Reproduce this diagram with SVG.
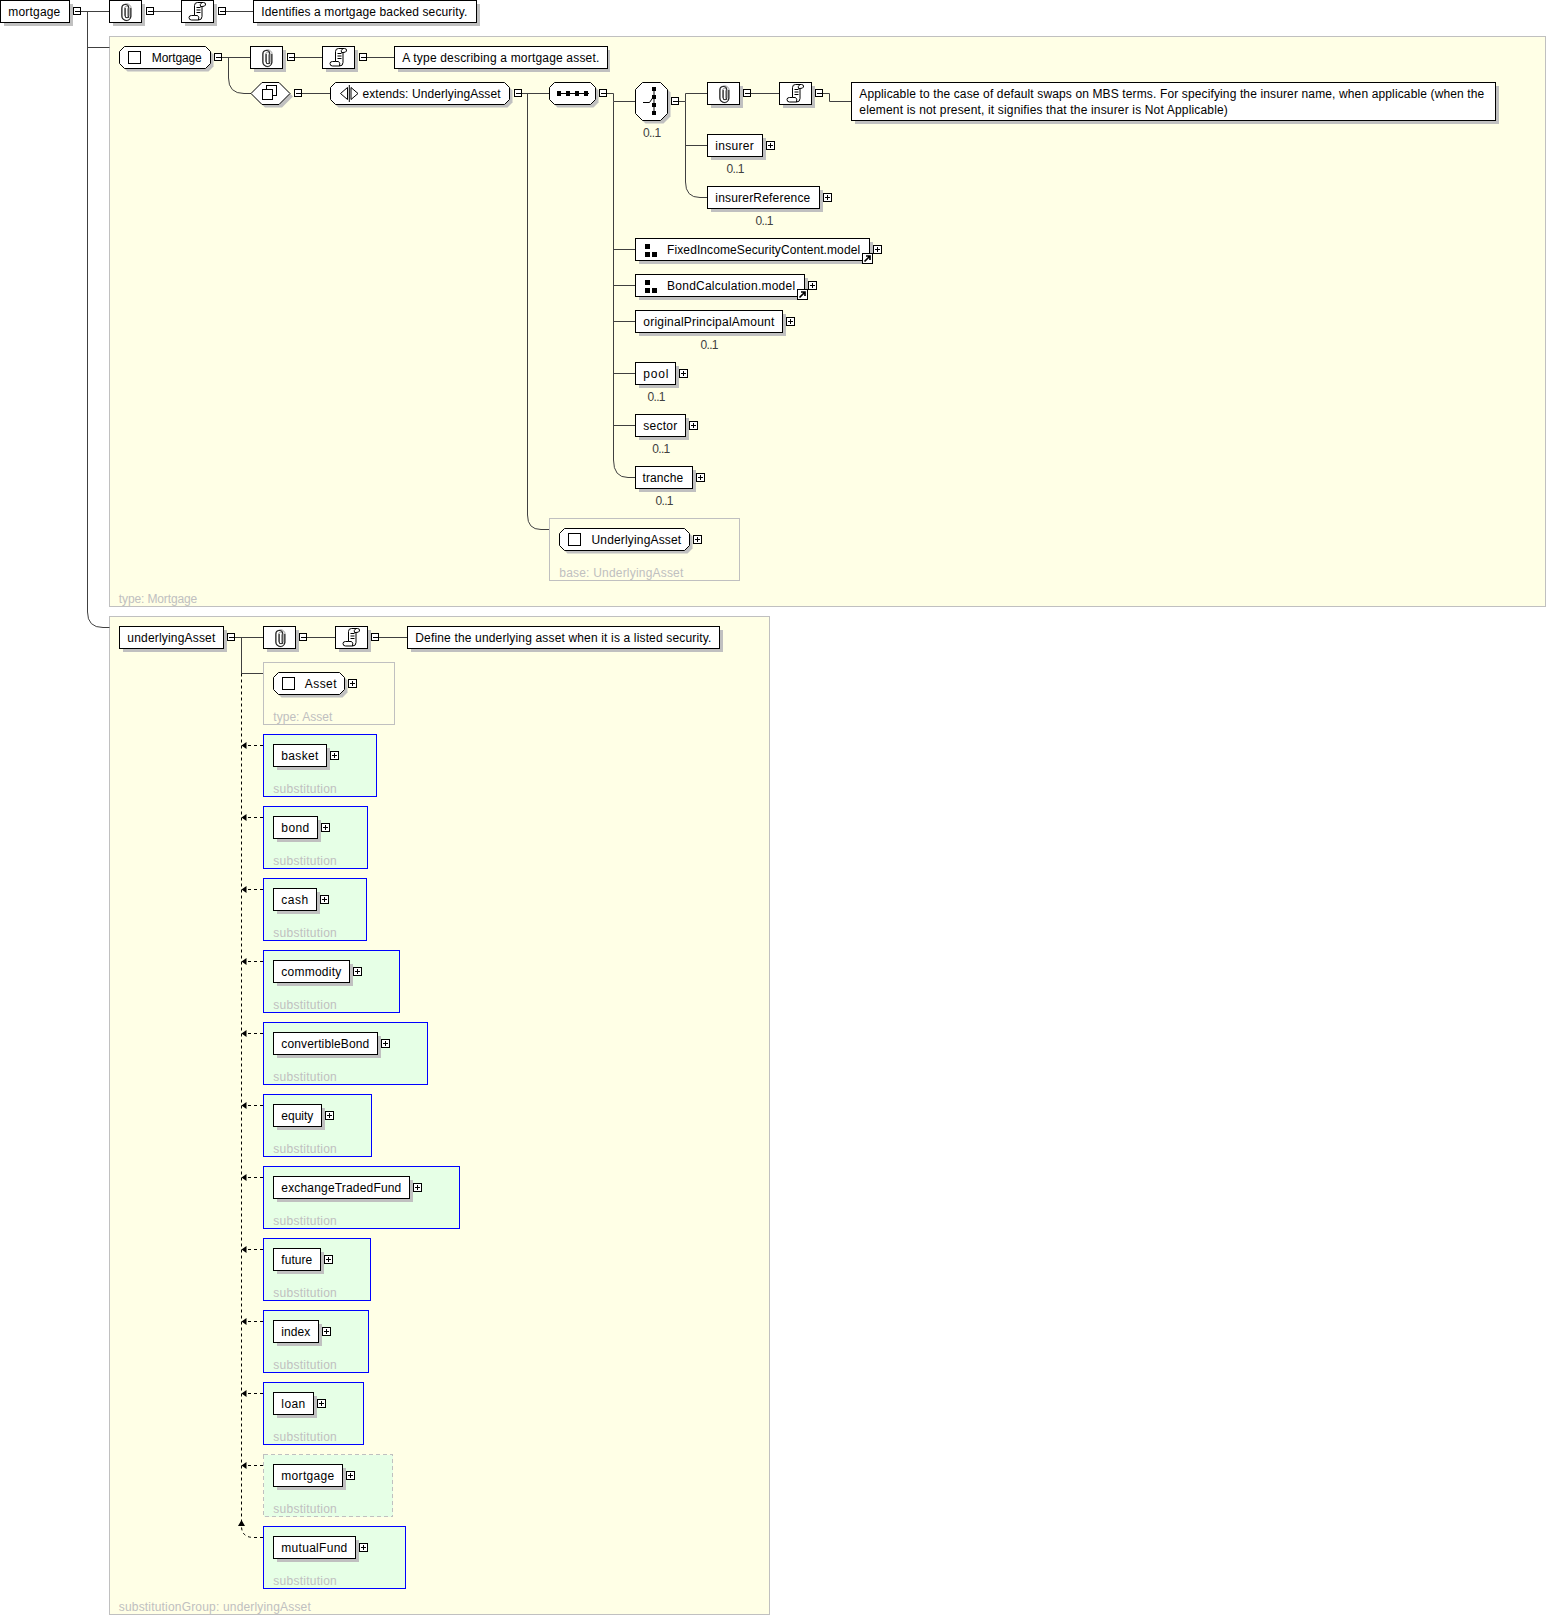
<svg xmlns="http://www.w3.org/2000/svg" width="1547" height="1616" viewBox="0 0 1547 1616">
<style>
text{font-family:"Liberation Sans",Arial,sans-serif;font-size:12px;fill:#000;transform:translateX(-.2px)}
text.g{fill:#c0c0c0}text.o{fill:#404040}
.n{fill:#fff;stroke:#000;stroke-width:1}
.sh{fill:#c0c0c0;stroke:none}
.y{fill:#ffffe6;stroke:#c0c0c0}
.t{fill:none;stroke:#c0c0c0}
.s{fill:#e6ffe6;stroke:#0000ff}
.sd{fill:#e6ffe6;stroke:#c0c0c0;stroke-dasharray:4 3}
.c{fill:none;stroke:#404040;stroke-width:1}
.d{fill:none;stroke:#000;stroke-width:1;stroke-dasharray:3 3}
.k{fill:#000}
rect{shape-rendering:crispEdges}
</style>
<defs>
<g id="minus"><rect x="0" y="0" width="7" height="7" fill="#fff" stroke="#000"/><path d="M1.500 4H6.500" stroke="#000" shape-rendering="crispEdges"/></g>
<g id="plus"><rect x="0" y="0" width="8" height="8" fill="#fff" stroke="#000"/><path d="M1.500 4H6.500M4 1.500V6.500" stroke="#000" shape-rendering="crispEdges"/></g>
<g id="clip"><rect x="-16" y="-11" width="32" height="22" fill="#c0c0c0" transform="translate(3 3)"/><rect x="-16" y="-11" width="32" height="22" class="n"/><path d="M1.500-3.500V4.500A1.800 1.800 0 0 0 5 4.500V-3.500A4.500 4.500 0 0 0-4-3.500V3.500A4.500 5 0 0 0 5 4.500M-1.500 4V-3.500A2 2 0 0 1 2.500-3.500" fill="none" stroke="#9a9a9a" stroke-width="1" transform="translate(.6 .3)"/><path d="M5-3.500V4.500A4.500 4.500 0 0 1-4 4.500V-3.500A3.500 3.500 0 0 1 3-3.500V4.500A1.800 1.800 0 0 1-.6 4.500V-3.500" fill="none" stroke="#222" stroke-width="1.100" transform="translate(.3 0)"/></g>
<g id="scroll"><rect x="-16" y="-11" width="32" height="22" fill="#c0c0c0" transform="translate(3 3)"/><rect x="-16" y="-11" width="32" height="22" class="n"/><path d="M-3-6Q-3-9 0-9H6Q8.500-9 8-6.500Q7.500-5 4.500-5V5Q4.500 8.500 1 8.500H-6Q-8.500 8.500-8.500 6Q-8.500 4-6 4H-3Z" fill="#fff" stroke="#000"/><path d="M4.500-5H3Q2-7 4-8.500M-3 4H0Q2 5 1 8.500M-1-4H3M-1-1.500H3M-1 1H3" stroke="#000" fill="none"/></g>
<g id="link"><rect x="0" y="0" width="10" height="10" fill="#fff" stroke="#000"/><path d="M2 8L7 3M3.500 2.500H7.500V6.500" stroke="#000" stroke-width="1.700" fill="none"/></g>
<g id="grp"><rect x="0" y="0" width="5" height="5" class="k"/><rect x="0" y="7.500" width="5" height="5" class="k"/><rect x="7" y="7.500" width="5" height="5" class="k"/></g>
</defs>

<g id="frames">
<rect x="109.500" y="36.500" width="1436" height="570" class="y"/>
<rect x="109.500" y="616.500" width="660" height="998" class="y"/>
</g>

<g id="connectors">
<path class="c" d="M81 11.500H109.500M153.500 11.500H181.500M225.500 11.500H253.500"/>
<path class="c" d="M87.500 11.500V612Q87.500 627.500 103 627.500H109.500M87.500 47.500H109.500"/>
<path class="c" d="M221.500 57.500H250.500M294.500 57.500H322.500M366.500 57.500H394.500"/>
<path class="c" d="M228.500 57.500V78Q228.500 93.500 244 93.500H251"/>
<path class="c" d="M301.500 93.500H330.500M521.500 93.500H549.500"/>
<path class="c" d="M527.500 93.500V515Q527.500 529.500 541 529.500H549.500"/>
<path class="c" d="M606.500 93.500H613.500V101.500H635.500"/>
<path class="c" d="M613.500 101.500V460Q613.500 477.500 628 477.500H635.500M613.500 249.500H635.500M613.500 285.500H635.500M613.500 321.500H635.500M613.500 373.500H635.500M613.500 425.500H635.500"/>
<path class="c" d="M678.500 101.500H685.500V93.500H707.500M685.500 101.500V182Q685.500 197.500 700 197.500H707.500M685.500 145.500H707.500"/>
<path class="c" d="M750.500 93.500H779.500M822.500 93.500H829.500V101.500H851.500"/>
<path class="c" d="M234.500 637.500H263.500M306.500 637.500H335.500M378.500 637.500H407.500"/>
<path class="c" d="M241.500 637.500V673.500H263.500"/>
<path class="d" d="M241.500 673.500V1522"/>
<path class="d" d="M263 745.500H247M263 817.500H247M263 889.500H247M263 961.500H247M263 1033.500H247M263 1105.500H247M263 1177.500H247M263 1249.500H247M263 1321.500H247M263 1393.500H247M263 1465.500H247"/>
<path class="d" d="M263 1537.500H254Q241.500 1537.500 241.500 1526"/>
<path class="k" d="M241.500 745.500l5-3.500v7zM241.500 817.500l5-3.500v7zM241.500 889.500l5-3.500v7zM241.500 961.500l5-3.500v7zM241.500 1033.500l5-3.500v7zM241.500 1105.500l5-3.500v7zM241.500 1177.500l5-3.500v7zM241.500 1249.500l5-3.500v7zM241.500 1321.500l5-3.500v7zM241.500 1393.500l5-3.500v7zM241.500 1465.500l5-3.500v7zM241.500 1520l3.500 6h-7z"/>
</g>

<g id="n-mortgage-root"><rect x="3.500" y="3.500" width="69" height="22" class="sh"/><rect x="0.500" y="0.500" width="69" height="22" class="n"/><text x="8.500" y="16" textLength="52">mortgage</text><use href="#minus" x="73.500" y="7.500"/></g>
<g id="n-root-ann"><use href="#clip" x="125.500" y="11.500"/><use href="#minus" x="146.500" y="7.500"/></g>
<g id="n-root-doc"><use href="#scroll" x="197.500" y="11.500"/><use href="#minus" x="218.500" y="7.500"/></g>
<g id="n-root-text"><rect x="256.500" y="3.500" width="223" height="22" class="sh"/><rect x="253.500" y="0.500" width="223" height="22" class="n"/><text x="261.500" y="16" textLength="206">Identifies a mortgage backed security.</text></g>

<g id="n-mortgage-type"><path class="sh" d="M122.500 54.500l5-5H208.500l5 5v12l-5 5H127.500l-5-5z"/><path class="n" d="M119.500 51.500l5-5H205.500l5 5v12l-5 5H124.500l-5-5z"/><rect x="128.500" y="51.500" width="12" height="12" class="n"/><text x="152" y="62" textLength="50">Mortgage</text><use href="#minus" x="214.500" y="53.500"/></g>
<g id="n-type-ann"><use href="#clip" x="266.500" y="57.500"/><use href="#minus" x="287.500" y="53.500"/></g>
<g id="n-type-doc"><use href="#scroll" x="338.500" y="57.500"/><use href="#minus" x="359.500" y="53.500"/></g>
<g id="n-type-text"><rect x="397.500" y="49.500" width="212.500" height="22" class="sh"/><rect x="394.500" y="46.500" width="212.500" height="22" class="n"/><text x="402.500" y="62" textLength="197">A type describing a mortgage asset.</text></g>
<g id="n-complex"><path class="sh" d="M254 96.500L265 85.500H282L293 96.500L282 107.500H265z"/><path class="n" d="M251 93.500L262 82.500H279L290 93.500L279 104.500H262z"/><rect x="266.500" y="85.500" width="10" height="10" class="n"/><rect x="262.500" y="89.500" width="10" height="10" class="n"/><use href="#minus" x="294.500" y="89.500"/></g>
<g id="n-extends"><path class="sh" d="M333.500 90.500l5-5H507.500l5 5v12l-5 5H338.500l-5-5z"/><path class="n" d="M330.500 87.500l5-5H504.500l5 5v12l-5 5H335.500l-5-5z"/><path class="n" d="M347.500 87.500L340.500 93.500L347.500 99.500zM351 87.500L358 93.500L351 99.500z"/><path d="M349.300 85V102" stroke="#000"/><text x="362.700" y="98" textLength="138">extends: UnderlyingAsset</text><use href="#minus" x="514.500" y="89.500"/></g>
<g id="n-sequence"><path class="sh" d="M552.500 90.500l5-5H593.500l5 5v12l-5 5H557.500l-5-5z"/><path class="n" d="M549.500 87.500l5-5H590.500l5 5v12l-5 5H554.500l-5-5z"/><path d="M557 93.500H589" stroke="#000"/><rect x="557" y="91" width="4" height="5" class="k"/><rect x="566" y="91" width="4" height="5" class="k"/><rect x="575" y="91" width="4" height="5" class="k"/><rect x="584" y="91" width="4" height="5" class="k"/><use href="#minus" x="599.500" y="89.500"/></g>
<g id="n-choice"><path class="sh" d="M638.500 92.500l7-7H663.500l7 7V116.500l-7 7H645.500l-7-7z"/><path class="n" d="M635.500 89.500l7-7H660.500l7 7V113.500l-7 7H642.500l-7-7z"/><path d="M654 88V113M643 102.500H649.500L654 96" stroke="#000" fill="none"/><rect x="652" y="87" width="4" height="4" class="k"/><rect x="652" y="95" width="4" height="4" class="k"/><rect x="652" y="103" width="4" height="4" class="k"/><rect x="652" y="111" width="4" height="4" class="k"/><use href="#minus" x="671.500" y="97.500"/><text class="o" x="643.300" y="137" textLength="18">0..1</text></g>
<g id="n-choice-ann"><use href="#clip" x="723.500" y="93.500"/><use href="#minus" x="743.500" y="89.500"/></g>
<g id="n-choice-doc"><use href="#scroll" x="795.500" y="93.500"/><use href="#minus" x="815.500" y="89.500"/></g>
<g id="n-choice-text"><rect x="854.500" y="85.500" width="644" height="38" class="sh"/><rect x="851.500" y="82.500" width="644" height="38" class="n"/><text x="859.500" y="98" textLength="625">Applicable to the case of default swaps on MBS terms. For specifying the insurer name, when applicable (when the</text><text x="859.500" y="114" textLength="368.500">element is not present, it signifies that the insurer is Not Applicable)</text></g>
<g id="n-insurer"><rect x="710.500" y="137.500" width="55" height="22" class="sh"/><rect x="707.500" y="134.500" width="55" height="22" class="n"/><text x="715.500" y="150" textLength="38.500">insurer</text><use href="#plus" x="766.500" y="141.500"/><text class="o" x="726.700" y="172.500" textLength="18">0..1</text></g>
<g id="n-insurerReference"><rect x="710.500" y="189.500" width="112" height="22" class="sh"/><rect x="707.500" y="186.500" width="112" height="22" class="n"/><text x="715.500" y="202" textLength="95">insurerReference</text><use href="#plus" x="823.500" y="193.500"/><text class="o" x="755.700" y="225" textLength="18">0..1</text></g>
<g id="n-FixedIncome"><rect x="638.500" y="241.500" width="234" height="22" class="sh"/><rect x="635.500" y="238.500" width="234" height="22" class="n"/><use href="#grp" x="645" y="244"/><text x="667.300" y="254" textLength="193">FixedIncomeSecurityContent.model</text><use href="#link" x="862.500" y="253.500"/><use href="#plus" x="873.500" y="245.500"/></g>
<g id="n-BondCalculation"><rect x="638.500" y="277.500" width="169" height="22" class="sh"/><rect x="635.500" y="274.500" width="169" height="22" class="n"/><use href="#grp" x="645" y="280"/><text x="667.300" y="290" textLength="128">BondCalculation.model</text><use href="#link" x="797.500" y="289.500"/><use href="#plus" x="808.500" y="281.500"/></g>
<g id="n-originalPrincipalAmount"><rect x="638.500" y="313.500" width="147" height="22" class="sh"/><rect x="635.500" y="310.500" width="147" height="22" class="n"/><text x="643.500" y="326" textLength="131">originalPrincipalAmount</text><use href="#plus" x="786.500" y="317.500"/><text class="o" x="700.700" y="348.500" textLength="18">0..1</text></g>
<g id="n-pool"><rect x="638.500" y="365.500" width="40" height="22" class="sh"/><rect x="635.500" y="362.500" width="40" height="22" class="n"/><text x="643.500" y="378" textLength="25">pool</text><use href="#plus" x="679.500" y="369.500"/><text class="o" x="647.700" y="400.500" textLength="18">0..1</text></g>
<g id="n-sector"><rect x="638.500" y="417.500" width="50" height="22" class="sh"/><rect x="635.500" y="414.500" width="50" height="22" class="n"/><text x="643.500" y="430" textLength="34">sector</text><use href="#plus" x="689.500" y="421.500"/><text class="o" x="652.500" y="452.500" textLength="18">0..1</text></g>
<g id="n-tranche"><rect x="638.500" y="469.500" width="57" height="22" class="sh"/><rect x="635.500" y="466.500" width="57" height="22" class="n"/><text x="642.700" y="482" textLength="40.700">tranche</text><use href="#plus" x="696.500" y="473.500"/><text class="o" x="655.700" y="505" textLength="18">0..1</text></g>
<g id="n-UnderlyingAsset"><rect x="549.500" y="518.500" width="190" height="62" class="t"/><path class="sh" d="M562.500 536.500l5-5H687.500l5 5v12l-5 5H567.500l-5-5z"/><path class="n" d="M559.500 533.500l5-5H684.500l5 5v12l-5 5H564.500l-5-5z"/><rect x="568.500" y="533.500" width="12" height="12" class="n"/><text x="591.700" y="544" textLength="89.700">UnderlyingAsset</text><use href="#plus" x="693.500" y="535.500"/><text class="g" x="559.500" y="577" textLength="124">base: UnderlyingAsset</text></g>
<text class="g" x="119" y="603" textLength="78.500">type: Mortgage</text>

<g id="n-underlyingAsset"><rect x="122.500" y="629.500" width="104" height="22" class="sh"/><rect x="119.500" y="626.500" width="104" height="22" class="n"/><text x="127.500" y="642" textLength="88">underlyingAsset</text><use href="#minus" x="227.500" y="633.500"/></g>
<g id="n-ua-ann"><use href="#clip" x="279.500" y="637.500"/><use href="#minus" x="299.500" y="633.500"/></g>
<g id="n-ua-doc"><use href="#scroll" x="351.500" y="637.500"/><use href="#minus" x="371.500" y="633.500"/></g>
<g id="n-ua-text"><rect x="410.500" y="629.500" width="312" height="22" class="sh"/><rect x="407.500" y="626.500" width="312" height="22" class="n"/><text x="415.500" y="642" textLength="296">Define the underlying asset when it is a listed security.</text></g>
<g id="n-Asset"><rect x="263.500" y="662.500" width="131" height="62" class="t"/><path class="sh" d="M276.500 680.500l5-5H342.500l5 5v12l-5 5H281.500l-5-5z"/><path class="n" d="M273.500 677.500l5-5H339.500l5 5v12l-5 5H278.500l-5-5z"/><rect x="282.500" y="677.500" width="12" height="12" class="n"/><text x="305" y="688" textLength="31.700">Asset</text><use href="#plus" x="348.500" y="679.500"/><text class="g" x="273.500" y="720.500" textLength="59">type: Asset</text></g>

<g id="n-basket"><rect x="263.500" y="734.500" width="113" height="62" class="s"/><rect x="276.500" y="747.500" width="53" height="22" class="sh"/><rect x="273.500" y="744.500" width="53" height="22" class="n"/><text x="281.500" y="760" textLength="37">basket</text><use href="#plus" x="330.500" y="751.500"/><text class="g" x="273.500" y="792.500" textLength="63.500">substitution</text></g>
<g id="n-bond"><rect x="263.500" y="806.500" width="104" height="62" class="s"/><rect x="276.500" y="819.500" width="44" height="22" class="sh"/><rect x="273.500" y="816.500" width="44" height="22" class="n"/><text x="281.500" y="832" textLength="28">bond</text><use href="#plus" x="321.500" y="823.500"/><text class="g" x="273.500" y="864.500" textLength="63.500">substitution</text></g>
<g id="n-cash"><rect x="263.500" y="878.500" width="103" height="62" class="s"/><rect x="276.500" y="891.500" width="43" height="22" class="sh"/><rect x="273.500" y="888.500" width="43" height="22" class="n"/><text x="281.500" y="904" textLength="27">cash</text><use href="#plus" x="320.500" y="895.500"/><text class="g" x="273.500" y="936.500" textLength="63.500">substitution</text></g>
<g id="n-commodity"><rect x="263.500" y="950.500" width="136" height="62" class="s"/><rect x="276.500" y="963.500" width="76" height="22" class="sh"/><rect x="273.500" y="960.500" width="76" height="22" class="n"/><text x="281.500" y="976" textLength="60">commodity</text><use href="#plus" x="353.500" y="967.500"/><text class="g" x="273.500" y="1008.500" textLength="63.500">substitution</text></g>
<g id="n-convertibleBond"><rect x="263.500" y="1022.500" width="164" height="62" class="s"/><rect x="276.500" y="1035.500" width="104" height="22" class="sh"/><rect x="273.500" y="1032.500" width="104" height="22" class="n"/><text x="281.500" y="1048" textLength="88">convertibleBond</text><use href="#plus" x="381.500" y="1039.500"/><text class="g" x="273.500" y="1080.500" textLength="63.500">substitution</text></g>
<g id="n-equity"><rect x="263.500" y="1094.500" width="108" height="62" class="s"/><rect x="276.500" y="1107.500" width="48" height="22" class="sh"/><rect x="273.500" y="1104.500" width="48" height="22" class="n"/><text x="281.500" y="1120" textLength="32">equity</text><use href="#plus" x="325.500" y="1111.500"/><text class="g" x="273.500" y="1152.500" textLength="63.500">substitution</text></g>
<g id="n-exchangeTradedFund"><rect x="263.500" y="1166.500" width="196" height="62" class="s"/><rect x="276.500" y="1179.500" width="136" height="22" class="sh"/><rect x="273.500" y="1176.500" width="136" height="22" class="n"/><text x="281.500" y="1192" textLength="120">exchangeTradedFund</text><use href="#plus" x="413.500" y="1183.500"/><text class="g" x="273.500" y="1224.500" textLength="63.500">substitution</text></g>
<g id="n-future"><rect x="263.500" y="1238.500" width="107" height="62" class="s"/><rect x="276.500" y="1251.500" width="47" height="22" class="sh"/><rect x="273.500" y="1248.500" width="47" height="22" class="n"/><text x="281.500" y="1264" textLength="31">future</text><use href="#plus" x="324.500" y="1255.500"/><text class="g" x="273.500" y="1296.500" textLength="63.500">substitution</text></g>
<g id="n-index"><rect x="263.500" y="1310.500" width="105" height="62" class="s"/><rect x="276.500" y="1323.500" width="45" height="22" class="sh"/><rect x="273.500" y="1320.500" width="45" height="22" class="n"/><text x="281.500" y="1336" textLength="29">index</text><use href="#plus" x="322.500" y="1327.500"/><text class="g" x="273.500" y="1368.500" textLength="63.500">substitution</text></g>
<g id="n-loan"><rect x="263.500" y="1382.500" width="100" height="62" class="s"/><rect x="276.500" y="1395.500" width="40" height="22" class="sh"/><rect x="273.500" y="1392.500" width="40" height="22" class="n"/><text x="281.500" y="1408" textLength="24">loan</text><use href="#plus" x="317.500" y="1399.500"/><text class="g" x="273.500" y="1440.500" textLength="63.500">substitution</text></g>
<g id="n-mortgage-sub"><rect x="263.500" y="1454.500" width="129" height="62" class="sd"/><rect x="276.500" y="1467.500" width="69" height="22" class="sh"/><rect x="273.500" y="1464.500" width="69" height="22" class="n"/><text x="281.500" y="1480" textLength="53">mortgage</text><use href="#plus" x="346.500" y="1471.500"/><text class="g" x="273.500" y="1512.500" textLength="63.500">substitution</text></g>
<g id="n-mutualFund"><rect x="263.500" y="1526.500" width="142" height="62" class="s"/><rect x="276.500" y="1539.500" width="82" height="22" class="sh"/><rect x="273.500" y="1536.500" width="82" height="22" class="n"/><text x="281.500" y="1552" textLength="66">mutualFund</text><use href="#plus" x="359.500" y="1543.500"/><text class="g" x="273.500" y="1584.500" textLength="63.500">substitution</text></g>
<text class="g" x="119" y="1611" textLength="192">substitutionGroup: underlyingAsset</text>
</svg>
